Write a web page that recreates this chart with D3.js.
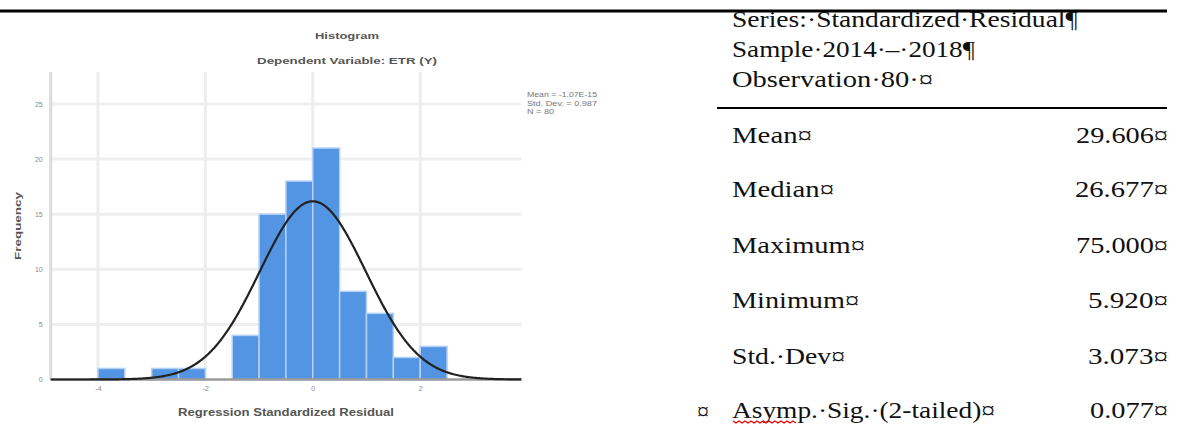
<html>
<head>
<meta charset="utf-8">
<script src="https://d3js.org/d3.v7.min.js"></script>
<style>
body { margin: 0; background: white; }
.tick text { font-family: Arial, "Liberation Sans", sans-serif; font-size: 7px; fill: #888; }
.tab { font-family: "Liberation Serif", "Times New Roman", serif; font-size: 24px; fill: #111; }
</style>
</head>
<body>
<svg id="svg1" width="1179" height="425"></svg>
<script>
// histogram bins (left edge) and counts
var binStart = [-4, -3, -2.5, -1.5, -1, -0.5, 0, 0.5, 1, 1.5, 2];
var binCount = [1, 1, 1, 4, 15, 18, 21, 8, 6, 2, 3];
var binWidth = 0.5;
var xTicks = [-4, -2, 0, 2];
var yTicks = [0, 5, 10, 15, 20, 25];
var legendLines = ["Mean = -1.07E-15", "Std. Dev. = 0.987", "N = 80"];
var fitMean = 0, fitSd = 0.987, fitN = 80;

// table on the right
var headerLines = ["Series:\u00B7Standardized\u00B7Residual\u00B6", "Sample\u00B72014\u00B7\u2013\u00B72018\u00B6", "Observation\u00B780\u00B7\u00A4"];
var statLabels = ["Mean\u00A4", "Median\u00A4", "Maximum\u00A4", "Minimum\u00A4", "Std.\u00B7Dev\u00A4", "Asymp.\u00B7Sig.\u00B7(2-tailed)\u00A4"];
var statValues = ["29.606\u00A4", "26.677\u00A4", "75.000\u00A4", "5.920\u00A4", "3.073\u00A4", "0.077\u00A4"];

var headerW = [346, 243, 201];
var labelW = [80, 102, 133, 127, 113, 263];
var valueW = [92, 93, 92, 80, 80, 78];

var svg = d3.select("#svg1");

var pLeft = 50.7, pRight = 521.7, pTop = 72, pBottom = 379.5;
var x = d3.scaleLinear().domain([-4.88, 3.89]).range([pLeft, pRight]);
var y = d3.scaleLinear().domain([0, 27.9]).range([pBottom, pTop]);

// top rule across the whole page
svg.append("line").attr("x1", 0).attr("x2", 1167).attr("y1", 11).attr("y2", 11)
  .attr("stroke", "#000").attr("stroke-width", 3);

// grid
svg.append("g").selectAll("line").data(yTicks.slice(1)).enter().append("line")
  .attr("x1", pLeft).attr("x2", pRight)
  .attr("y1", function(d) { return y(d); }).attr("y2", function(d) { return y(d); })
  .attr("stroke", "#efefef").attr("stroke-width", 3);
svg.append("g").selectAll("line").data(xTicks).enter().append("line")
  .attr("x1", function(d) { return x(d); }).attr("x2", function(d) { return x(d); })
  .attr("y1", pTop).attr("y2", pBottom)
  .attr("stroke", "#ededed").attr("stroke-width", 3);
svg.append("line").attr("x1", pLeft).attr("x2", pLeft).attr("y1", pTop).attr("y2", pBottom)
  .attr("stroke", "#dcdcdc").attr("stroke-width", 3);

// bars
svg.append("g").selectAll("rect").data(binStart).enter().append("rect")
  .attr("x", function(d) { return x(d); })
  .attr("width", function(d) { return x(d + binWidth) - x(d); })
  .attr("y", function(d, i) { return y(binCount[i]); })
  .attr("height", function(d, i) { return pBottom - y(binCount[i]); })
  .attr("fill", "#5395e3")
  .attr("stroke", "#b3d1f5").attr("stroke-width", 1.5);

// baseline
svg.append("line").attr("x1", pLeft).attr("x2", pRight).attr("y1", pBottom).attr("y2", pBottom)
  .attr("stroke", "#9a9a9a").attr("stroke-width", 2.5);

// normal curve from the fitted mean / sd
var pts = d3.range(x.domain()[0], x.domain()[1] + 0.001, 0.02).map(function(v) {
  var z = (v - fitMean) / fitSd;
  return [v, fitN * binWidth * Math.exp(-0.5 * z * z) / (fitSd * Math.sqrt(2 * Math.PI))];
});
svg.append("path").datum(pts)
  .attr("d", d3.line().x(function(d) { return x(d[0]); }).y(function(d) { return y(d[1]); }))
  .attr("fill", "none").attr("stroke", "#222").attr("stroke-width", 2.2);

// axes (labels only)
var ya = svg.append("g").attr("transform", "translate(" + (pLeft - 5) + ",0)")
  .call(d3.axisLeft(y).tickValues(yTicks).tickSize(0));
ya.select(".domain").remove();
var xa = svg.append("g").attr("transform", "translate(0," + (pBottom + 4) + ")")
  .call(d3.axisBottom(x).tickValues(xTicks).tickSize(0).tickFormat(function(d) { return String(d); }));
xa.select(".domain").remove();

// titles
function label(txt, px, py, size, w, col, weight) {
  return svg.append("text").text(txt).attr("x", px).attr("y", py)
    .attr("text-anchor", "middle").attr("dominant-baseline", "middle")
    .attr("font-family", "Arial, 'Liberation Sans', sans-serif")
    .attr("font-size", size).attr("font-weight", weight || "bold")
    .attr("fill", col).attr("textLength", w).attr("lengthAdjust", "spacingAndGlyphs");
}
label("Histogram", 347, 37, 9, 64, "#555");
label("Dependent Variable: ETR (Y)", 347, 62, 9, 180, "#555");
label("Regression Standardized Residual", 286, 413, 10, 216, "#555");
label("Frequency", 0, 0, 9, 68, "#555").attr("transform", "translate(19,226) rotate(-90)");

svg.append("g").selectAll("text").data(legendLines).enter().append("text")
  .text(function(d) { return d; })
  .attr("x", 527).attr("y", function(d, i) { return 97 + i * 8.5; })
  .attr("font-family", "Arial, 'Liberation Sans', sans-serif").attr("font-size", 7.5)
  .attr("fill", "#777")
  .attr("textLength", function(d, i) { return [70, 70, 27][i]; })
  .attr("lengthAdjust", "spacingAndGlyphs");

// table
svg.append("line").attr("x1", 717).attr("x2", 1167).attr("y1", 108).attr("y2", 108)
  .attr("stroke", "#000").attr("stroke-width", 2);

var headerY = [27, 57, 87];
svg.append("g").selectAll("text").data(headerLines).enter().append("text")
  .attr("class", "tab").text(function(d) { return d; })
  .attr("x", 732).attr("y", function(d, i) { return headerY[i]; })
  .attr("textLength", function(d, i) { return headerW[i]; })
  .attr("lengthAdjust", "spacingAndGlyphs");

var rowY = [143, 197, 253, 308, 364, 418];
svg.append("g").selectAll("text").data(statLabels).enter().append("text")
  .attr("class", "tab").text(function(d) { return d; })
  .attr("x", 732).attr("y", function(d, i) { return rowY[i]; })
  .attr("textLength", function(d, i) { return labelW[i]; })
  .attr("lengthAdjust", "spacingAndGlyphs");
svg.append("g").selectAll("text").data(statValues).enter().append("text")
  .attr("class", "tab").text(function(d) { return d; })
  .attr("x", 1168).attr("y", function(d, i) { return rowY[i]; })
  .attr("text-anchor", "end")
  .attr("textLength", function(d, i) { return valueW[i]; })
  .attr("lengthAdjust", "spacingAndGlyphs");

// spell-check squiggle under "Asymp." and stray cell mark
var sq = d3.range(0, 22).map(function(i) { return [733 + i * 3, 421 + (i % 2 ? 2 : 0)]; });
svg.append("path").datum(sq).attr("d", d3.line()).attr("fill", "none")
  .attr("stroke", "#e00").attr("stroke-width", 1.3);
svg.append("text").attr("class", "tab").text("\u00A4").attr("x", 697).attr("y", 419)
  .attr("font-size", 12);
</script>
</body>
</html>
